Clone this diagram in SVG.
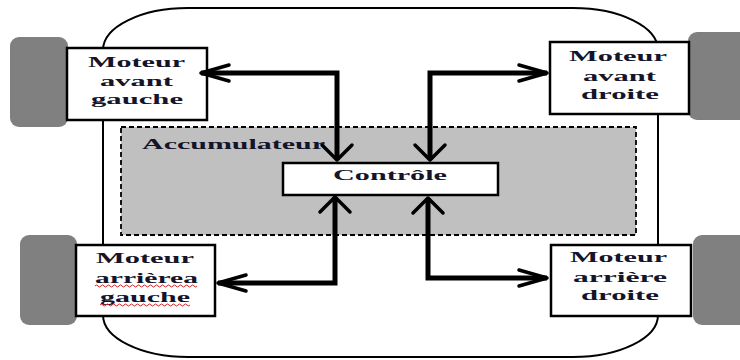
<svg xmlns="http://www.w3.org/2000/svg" width="740" height="360" viewBox="0 0 740 360">
<style>
.body{fill:#fff;stroke:#000;stroke-width:2}
.wheel{fill:#808080}
.box{fill:#fff;stroke:#000;stroke-width:2.5}
.acc{fill:#c0c0c0;stroke:#000;stroke-width:1.8;stroke-dasharray:5 3}
.lbl{font-family:"Liberation Serif","Times New Roman",serif;font-weight:bold;font-size:15.5px;fill:#14142a}
.conn{fill:none;stroke:#000;stroke-width:5;stroke-linejoin:miter}
.head{fill:none;stroke:#000;stroke-width:3.5;stroke-linecap:round;stroke-linejoin:round}
.sq{fill:none;stroke:#d02020;stroke-width:1}
</style>
<defs>
<marker id="headH" markerUnits="userSpaceOnUse" orient="auto-start-reverse" overflow="visible" markerWidth="1" markerHeight="1" refX="0" refY="0">
<path class="head" d="M-28 -8 L0 0 L-28 8"/>
</marker>
<marker id="headV" markerUnits="userSpaceOnUse" orient="auto-start-reverse" overflow="visible" markerWidth="1" markerHeight="1" refX="0" refY="0">
<path class="head" d="M-15 -15 L0 0 L-15 15"/>
</marker>
</defs>
<g id="car-body">
<path class="body" d="M188 8 H573 A85 42 0 0 1 658 50 V315 A85 42 0 0 1 573 357 H188 A85 42 0 0 1 103 315 V50 A85 42 0 0 1 188 8 Z"/>
</g>
<g id="wheels">
<rect class="wheel" x="10" y="37" width="58" height="90" rx="9"/>
<rect class="wheel" x="688" y="32" width="70" height="88" rx="9"/>
<rect class="wheel" x="20" y="235" width="57" height="90" rx="9"/>
<rect class="wheel" x="693" y="235" width="70" height="90" rx="9"/>
</g>
<g id="accumulateur">
<rect class="acc" x="121" y="127" width="515" height="108"/>
<text class="lbl" x="142" y="149" textLength="183" lengthAdjust="spacingAndGlyphs">Accumulateur</text>
</g>
<g id="controle">
<rect class="box" x="283" y="163" width="215" height="32"/>
<text class="lbl" x="333" y="180" textLength="114" lengthAdjust="spacingAndGlyphs">Contrôle</text>
</g>
<g id="moteur-avant-gauche">
<rect class="box" x="67" y="48" width="140" height="72"/>
<text class="lbl" x="88" y="67" textLength="97" lengthAdjust="spacingAndGlyphs">Moteur</text>
<text class="lbl" x="100" y="86" textLength="73" lengthAdjust="spacingAndGlyphs">avant</text>
<text class="lbl" x="91" y="104" textLength="92" lengthAdjust="spacingAndGlyphs">gauche</text>
</g>
<g id="moteur-avant-droite">
<rect class="box" x="550" y="42" width="139" height="72"/>
<text class="lbl" x="569" y="61" textLength="98" lengthAdjust="spacingAndGlyphs">Moteur</text>
<text class="lbl" x="583" y="81" textLength="73" lengthAdjust="spacingAndGlyphs">avant</text>
<text class="lbl" x="581" y="99" textLength="78" lengthAdjust="spacingAndGlyphs">droite</text>
</g>
<g id="moteur-arriere-gauche">
<rect class="box" x="76" y="245" width="139" height="71"/>
<text class="lbl" x="96" y="263" textLength="98" lengthAdjust="spacingAndGlyphs">Moteur</text>
<text class="lbl" x="95" y="283" textLength="103" lengthAdjust="spacingAndGlyphs">arrièrea</text>
<text class="lbl" x="100" y="302" textLength="90" lengthAdjust="spacingAndGlyphs">gauche</text>
<path class="sq" d="M95 286 q1.5 -2 3 0 t3 0 t3 0 t3 0 t3 0 t3 0 t3 0 t3 0 t3 0 t3 0 t3 0 t3 0 t3 0 t3 0 t3 0 t3 0 t3 0 t3 0 t3 0 t3 0 t3 0 t3 0 t3 0 t3 0 t3 0 t3 0 t3 0 t3 0 t3 0 t3 0 t3 0 t3 0 t3 0 t3 0"/>
<path class="sq" d="M100 305 q1.5 -2 3 0 t3 0 t3 0 t3 0 t3 0 t3 0 t3 0 t3 0 t3 0 t3 0 t3 0 t3 0 t3 0 t3 0 t3 0 t3 0 t3 0 t3 0 t3 0 t3 0 t3 0 t3 0 t3 0 t3 0 t3 0 t3 0 t3 0 t3 0 t3 0 t3 0"/>
</g>
<g id="moteur-arriere-droite">
<rect class="box" x="551" y="245" width="140" height="71"/>
<text class="lbl" x="570" y="262" textLength="97" lengthAdjust="spacingAndGlyphs">Moteur</text>
<text class="lbl" x="573" y="282" textLength="94" lengthAdjust="spacingAndGlyphs">arrière</text>
<text class="lbl" x="581" y="300" textLength="78" lengthAdjust="spacingAndGlyphs">droite</text>
</g>
<g id="connectors">
<path class="conn" d="M201 73 H337 V160" marker-start="url(#headH)" marker-end="url(#headV)"/>
<path class="conn" d="M430 160 V73 H547" marker-start="url(#headV)" marker-end="url(#headH)"/>
<path class="conn" d="M335 197 V283 H218" marker-start="url(#headV)" marker-end="url(#headH)"/>
<path class="conn" d="M428 198 V278 H547" marker-start="url(#headV)" marker-end="url(#headH)"/>
</g>
</svg>
